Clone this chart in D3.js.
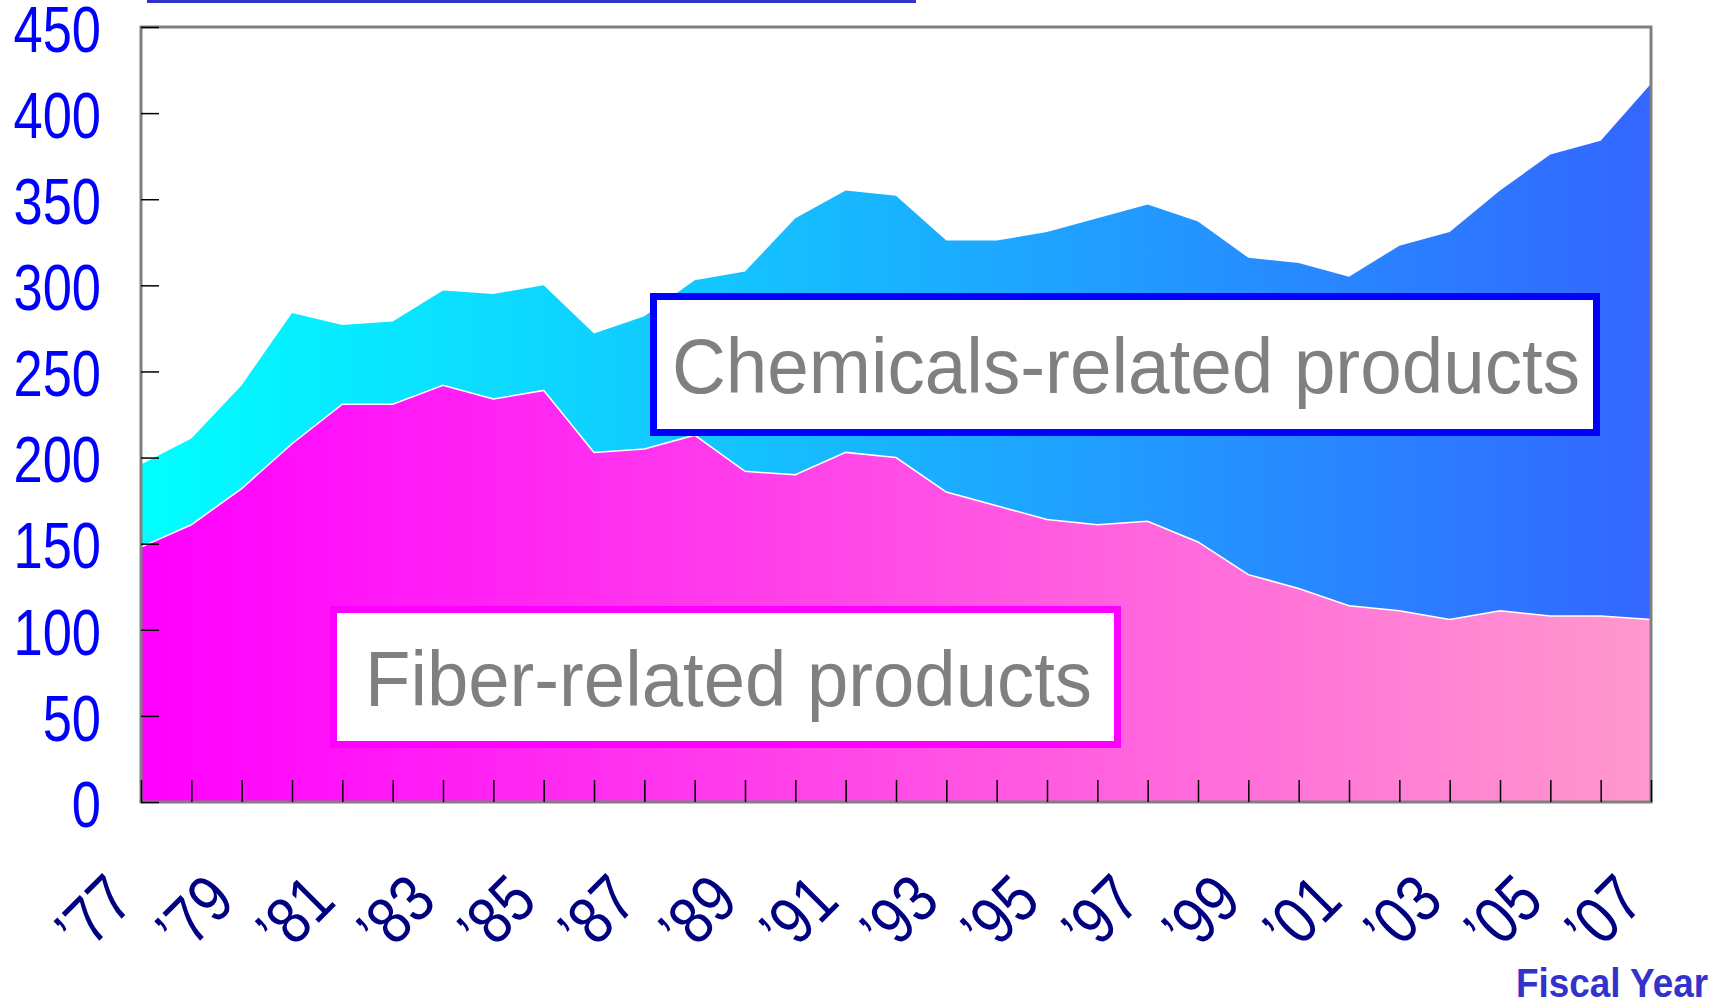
<!DOCTYPE html>
<html>
<head>
<meta charset="utf-8">
<script src="https://cdn.jsdelivr.net/npm/d3@7"></script>
<style>
  body { margin: 0; background: #fff; }
  svg { display: block; font-family: "Liberation Sans", Arial, sans-serif; }
</style>
</head>
<body>
<div id="container"></div>
<script>

//---------------------
// DATA
//---------------------

const years = d3.range(1977, 2008);

// fiber-related products (bottom layer)
const fiber = [148, 161, 182, 208, 231, 231, 242, 234, 239, 203,
               205, 213, 192, 190, 203, 200, 180, 172, 164, 161,
               163, 151, 132, 124, 114, 111, 106, 111, 108, 108, 106];

// chemicals-related products (stacked on top)
const chemicals = [48, 50, 60, 76, 46, 48, 55, 61, 61, 69,
                   77, 90, 116, 149, 152, 152, 146, 154, 167, 178,
                   184, 186, 184, 189, 191, 212, 225, 244, 268, 276, 311];

const yTicks = [0, 50, 100, 150, 200, 250, 300, 350, 400, 450];
const labelYears = d3.range(1977, 2008, 2);
const legendLabels = ['Chemicals-related products', 'Fiber-related products'];

//---------------------
// DIMENSIONS
//---------------------

const width = 1727;
const height = 1002;
const plot = { left: 141, right: 1651, top: 27, bottom: 802 };

const svg = d3.select('#container')
              .append('svg')
              .attr('width', width)
              .attr('height', height);

const x = d3.scalePoint()
            .domain(years)
            .range([plot.left, plot.right]);

const y = d3.scaleLinear()
            .domain([0, 450])
            .range([plot.bottom, plot.top]);

//---------------------
// GRADIENTS
//---------------------

const defs = svg.append('defs');

function addGradient (id, from, to) {
  const grad = defs.append('linearGradient')
                   .attr('id', id)
                   .attr('gradientUnits', 'userSpaceOnUse')
                   .attr('x1', plot.left).attr('x2', plot.right)
                   .attr('y1', 0).attr('y2', 0);
  grad.append('stop').attr('offset', 0).attr('stop-color', from);
  grad.append('stop').attr('offset', 1).attr('stop-color', to);
}

addGradient('grad_fiber', '#ff00ff', '#ff99cc');
addGradient('grad_chem', '#00ffff', '#3366ff');

//---------------------
// AREAS
//---------------------

const rows = years.map((yr, i) => ({ year: yr, fiber: fiber[i], chemicals: chemicals[i] }));
const series = d3.stack().keys(['fiber', 'chemicals'])(rows);

const area = d3.area()
               .x(d => x(d.data.year))
               .y0(d => y(d[0]))
               .y1(d => y(d[1]));

svg.append('g')
   .selectAll('path')
   .data(series)
   .enter()
   .append('path')
   .attr('d', area)
   .attr('fill', d => d.key === 'fiber' ? 'url(#grad_fiber)' : 'url(#grad_chem)');

// thin white edge between the two layers
const edge = d3.line()
               .x(d => x(d.data.year))
               .y(d => y(d[1]));

svg.append('path')
   .datum(series[0])
   .attr('d', edge)
   .attr('fill', 'none')
   .attr('stroke', '#ffffff')
   .attr('stroke-width', 1.5);

//---------------------
// AXES + FRAME
//---------------------

svg.append('rect')
   .attr('x', plot.left)
   .attr('y', plot.top)
   .attr('width', plot.right - plot.left)
   .attr('height', plot.bottom - plot.top)
   .attr('fill', 'none')
   .attr('stroke', '#808080')
   .attr('stroke-width', 3);

const axisY = svg.append('g')
                 .attr('transform', `translate(${plot.left}, 0)`)
                 .call(d3.axisLeft(y).tickValues(yTicks).tickSize(-18).tickSizeOuter(0));

axisY.select('.domain').remove();
axisY.selectAll('line').attr('stroke', '#000').attr('stroke-width', 1.5);
axisY.selectAll('text')
     .attr('x', 0)
     .attr('dy', '0.38em')
     .attr('transform', 'translate(-40, 0) scale(0.82, 1)')
     .attr('fill', '#0000ff')
     .style('font-size', '64px')
     .style('font-family', '"Liberation Sans", Arial, sans-serif');

const axisX = svg.append('g')
                 .attr('transform', `translate(0, ${plot.bottom})`)
                 .call(d3.axisBottom(x).tickSize(-22).tickSizeOuter(0).tickFormat(''));

axisX.select('.domain').remove();
axisX.selectAll('line').attr('stroke', '#000').attr('stroke-width', 1.5);

svg.append('g')
   .selectAll('text')
   .data(labelYears)
   .enter()
   .append('text')
   .attr('transform', d => `translate(${x(d) - 48}, 913) rotate(-45) scale(0.84, 1)`)
   .attr('text-anchor', 'middle')
   .attr('dy', '0.36em')
   .attr('fill', '#000080')
   .style('font-size', '67px')
   .text(d => '\u2019' + String(d).slice(2));

svg.append('text')
   .attr('x', 1708)
   .attr('y', 997)
   .attr('text-anchor', 'end')
   .attr('fill', '#3333cc')
   .attr('font-weight', 'bold')
   .attr('textLength', 192)
   .attr('lengthAdjust', 'spacingAndGlyphs')
   .style('font-size', '40px')
   .text('Fiscal Year');

// cut-off rule at the very top
svg.append('line')
   .attr('x1', 147).attr('x2', 916)
   .attr('y1', 1.5).attr('y2', 1.5)
   .attr('stroke', '#3333cc')
   .attr('stroke-width', 3);

//---------------------
// LEGEND BOXES
//---------------------

const boxes = [
  { label: legendLabels[0], x: 653.5, y: 296.5, w: 943, h: 136, color: '#0000ff', tx: 672, ty: 393, tl: 908 },
  { label: legendLabels[1], x: 333.5, y: 609.5, w: 784, h: 135, color: '#ff00ff', tx: 365, ty: 706, tl: 727 }
];

const box = svg.append('g')
               .selectAll('g')
               .data(boxes)
               .enter()
               .append('g');

box.append('rect')
   .attr('x', d => d.x)
   .attr('y', d => d.y)
   .attr('width', d => d.w)
   .attr('height', d => d.h)
   .attr('fill', '#ffffff')
   .attr('stroke', d => d.color)
   .attr('stroke-width', 7);

box.append('text')
   .attr('x', d => d.tx)
   .attr('y', d => d.ty)
   .attr('fill', '#808080')
   .attr('textLength', d => d.tl)
   .attr('lengthAdjust', 'spacingAndGlyphs')
   .style('font-size', '77px')
   .text(d => d.label);

</script>
</body>
</html>
